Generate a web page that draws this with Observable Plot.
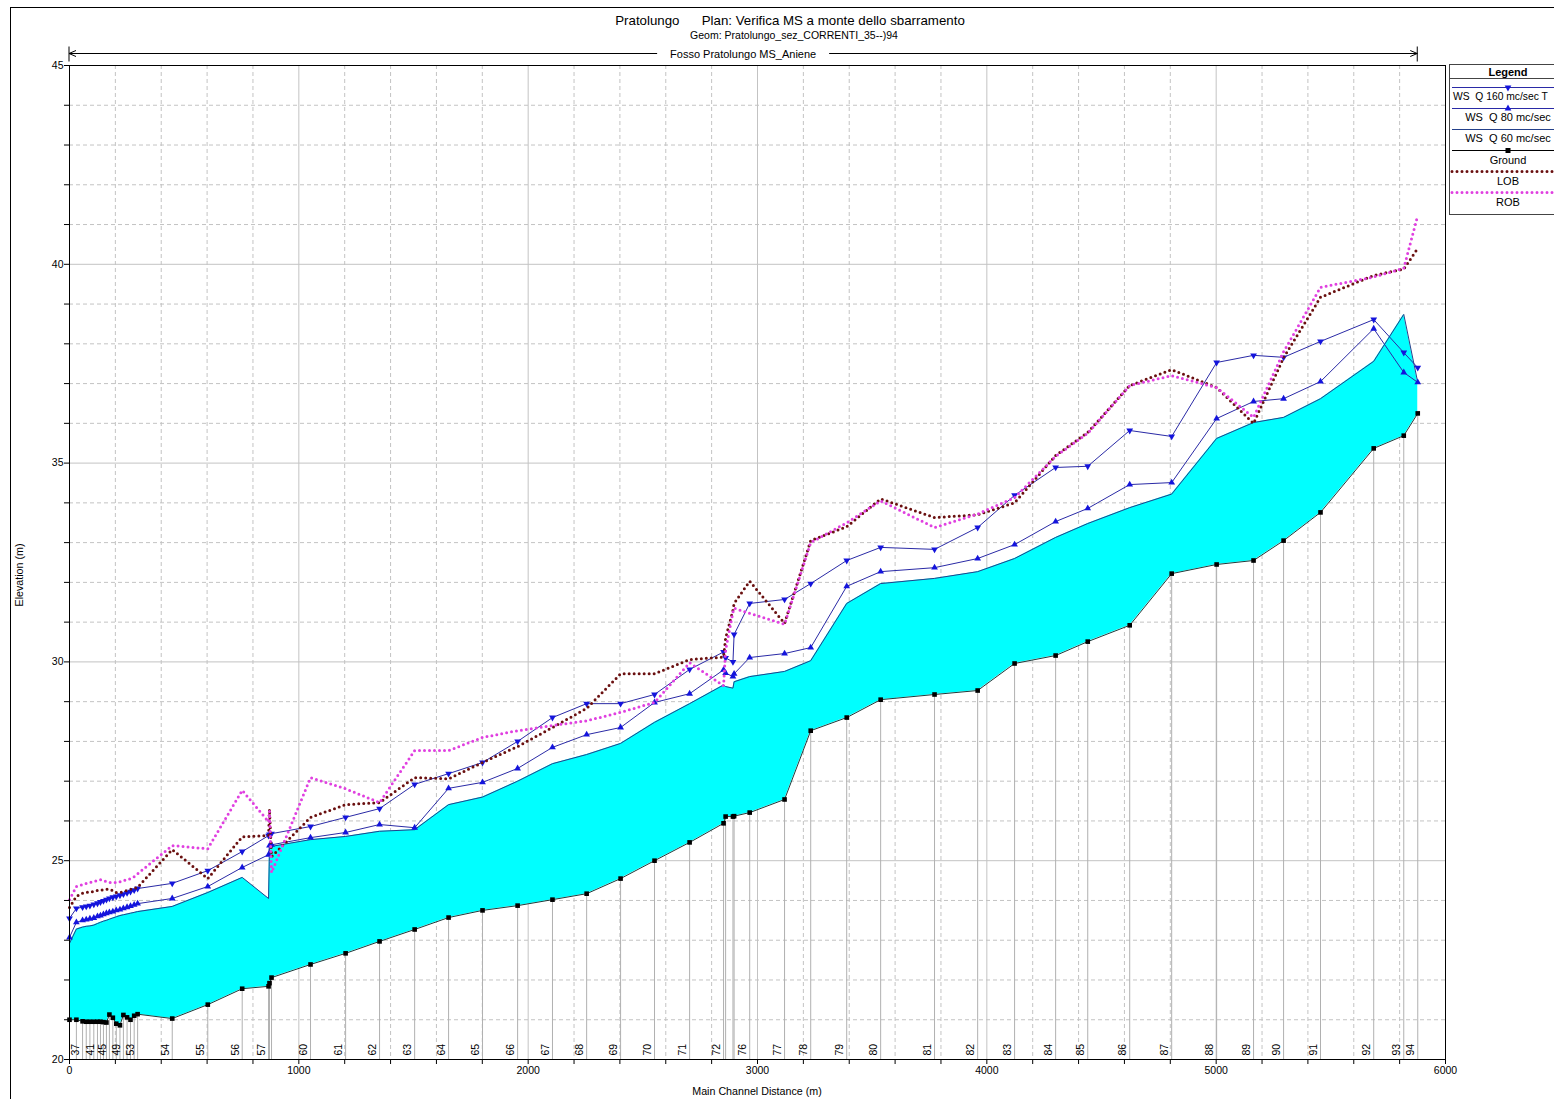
<!DOCTYPE html>
<html><head><meta charset="utf-8">
<script src="https://cdn.jsdelivr.net/npm/d3@7"></script>
<script src="https://cdn.jsdelivr.net/npm/@observablehq/plot@0.6"></script>
<style>
html,body{margin:0;padding:0;background:#fff;overflow:hidden;}
#chart{position:relative;width:1554px;height:1099px;}
</style></head><body><div id="chart"></div>
<script>
// ---- data ----
const stations = [35,36,37,38,39,40,41,42,43,44,45,46,47,48,49,50,51,52,53,
  54,55,56,57,58,59,60,61,62,63,64,65,66,67,68,69,70,71,72,73,74,75,76,77,78,79,80,81,82,83,84,85,86,87,88,89,90,91,92,93,94];
const shownLabels = [37,41,45,49,53,54,55,56,57,60,61,62,63,64,65,66,67,68,69,70,71,72,76,77,78,79,80,81,82,83,84,85,86,87,88,89,90,91,92,93,94];
const dist = [0,30,57,73,89,106,122,135,148,161,174,189,204,220,235,251,266,282,297,
  448,603,753,868,872,881,1051,1204,1352,1505,1653,1801,1954,2106,2255,2403,2551,2704,2852,2861,2893,2898,2966,3118,3232,3389,3537,3772,3960,4121,4300,4440,4623,4806,5002,5163,5294,5455,5687,5818,5879];
const ground = [21.0,21.0,20.96,20.95,20.95,20.95,20.95,20.95,20.94,20.93,21.13,21.05,20.9,20.86,21.12,21.06,21.0,21.1,21.14,
  21.03,21.38,21.78,21.84,21.92,22.06,22.39,22.67,22.97,23.27,23.57,23.75,23.87,24.02,24.17,24.55,25.0,25.46,25.94,26.11,26.11,26.12,26.21,26.54,28.27,28.6,29.05,29.18,29.28,29.96,30.16,30.51,30.92,32.22,32.45,32.55,33.05,33.76,35.37,35.69,36.25];
const wsQ60 = [22.92,23.28,23.33,23.35,23.36,23.38,23.42,23.45,23.48,23.5,23.53,23.56,23.59,23.62,23.64,23.66,23.68,23.7,23.72,
  23.85,24.2,24.58,24.05,25.3,25.36,25.53,25.61,25.74,25.78,26.41,26.6,27.0,27.44,27.67,27.95,28.48,28.95,29.42,29.38,29.34,29.5,29.63,29.76,30.03,31.47,31.97,32.1,32.27,32.6,33.13,33.48,33.88,34.22,35.62,36.02,36.15,36.62,37.56,38.74,37.03];
const wsQ80 = [23.07,23.45,23.5,23.52,23.54,23.56,23.6,23.62,23.65,23.68,23.7,23.72,23.75,23.77,23.8,23.83,23.86,23.89,23.92,
  24.05,24.35,24.83,25.15,25.38,25.4,25.58,25.71,25.91,25.83,26.82,26.97,27.32,27.85,28.17,28.35,28.98,29.2,29.8,29.72,29.63,29.7,30.11,30.21,30.36,31.9,32.27,32.37,32.6,32.95,33.53,33.86,34.46,34.51,36.12,36.55,36.62,37.05,38.38,37.28,37.03];
const wsQ160 = [23.55,23.8,23.83,23.85,23.87,23.9,23.93,23.96,23.99,24.02,24.05,24.08,24.1,24.13,24.16,24.19,24.22,24.26,24.3,
  24.43,24.75,25.23,25.63,25.66,25.68,25.86,26.09,26.31,26.92,27.19,27.47,28.0,28.6,28.95,28.95,29.18,29.81,30.25,30.1,30.0,30.69,31.47,31.57,31.97,32.55,32.88,32.83,33.38,34.19,34.89,34.92,35.82,35.67,37.53,37.71,37.66,38.06,38.61,37.78,37.4];
const lob = [23.82,24.1,24.18,24.2,24.22,24.22,24.25,24.25,24.27,24.28,24.28,24.25,24.2,24.2,24.22,24.25,24.28,24.3,24.33,
  25.28,24.55,25.6,25.63,26.3,25.1,26.09,26.41,26.46,27.09,27.06,27.47,27.87,28.35,28.83,29.7,29.7,30.06,30.12,30.6,31.3,31.47,32.03,30.97,33.05,33.4,34.1,33.63,33.7,34.0,35.19,35.77,36.95,37.35,36.9,36.0,37.65,39.17,39.72,39.88,40.4];
const rob = [24.02,24.35,24.4,24.43,24.45,24.48,24.5,24.52,24.5,24.47,24.45,24.45,24.45,24.47,24.5,24.52,24.55,24.6,24.67,
  25.38,25.3,26.77,25.98,26.25,24.7,27.09,26.81,26.46,27.77,27.77,28.1,28.27,28.4,28.52,28.73,28.98,29.98,29.4,30.3,31.25,31.35,31.22,30.95,33.0,33.5,34.05,33.38,33.72,34.13,35.17,35.75,36.95,37.2,36.9,36.15,37.8,39.42,39.68,39.9,41.23];
const xTicks = d3.range(0, 6001, 200);
const yTicks = d3.range(20, 46, 1);
const titleText = "Pratolungo      Plan: Verifica MS a monte dello sbarramento";
const subtitleText = "Geom: Pratolungo_sez_CORRENTI_35--)94";
const reachText = "Fosso Pratolungo MS_Aniene";
const xLabel = "Main Channel Distance (m)";
const yLabel = "Elevation (m)";
const legendItems = ["WS  Q 160 mc/sec T", "WS  Q 80 mc/sec", "WS  Q 60 mc/sec", "Ground", "LOB", "ROB"];

// ---- build ----
const rows = stations.map((s, i) => ({s, d: dist[i], g: ground[i], w60: wsQ60[i], w80: wsQ80[i], w160: wsQ160[i], lob: lob[i], rob: rob[i]}));
const FONT = "'Liberation Sans', Arial, sans-serif";
const GRID = "#c3c3c3";
const dotted = {strokeWidth: 3, strokeDasharray: "0,5", strokeLinecap: "round"};
const yMin = yTicks[0];

const plot = Plot.plot({
  width: 1554, height: 1099,
  marginLeft: 69, marginRight: 109, marginTop: 65, marginBottom: 40,
  style: {fontFamily: FONT, fontSize: "10px", background: "white", color: "black"},
  x: {domain: [0, 6000], label: null},
  y: {domain: [20, 45], label: null},
  marks: [
    Plot.ruleX(xTicks.filter(v => v % 1000 !== 0), {stroke: GRID, strokeDasharray: "4,3"}),
    Plot.ruleX(xTicks.filter(v => v % 1000 === 0 && v > 0 && v < 6000), {stroke: GRID}),
    Plot.ruleY(yTicks.filter(v => v % 5 !== 0), {stroke: GRID, strokeDasharray: "4,3"}),
    Plot.ruleY(yTicks.filter(v => v % 5 === 0 && v > 20 && v < 45), {stroke: GRID}),
    Plot.ruleX(rows, {x: "d", y1: yMin, y2: "g", stroke: "#b0b0b0"}),
    Plot.areaY(rows, {x: "d", y1: "g", y2: "w60", fill: "#00ffff"}),
    Plot.line(rows, {x: "d", y: "w60", stroke: "#24408a", strokeWidth: 1}),
    Plot.line(rows, {x: "d", y: "g", stroke: "#1c3a3a", strokeWidth: 1}),
    Plot.dot(rows, {x: "d", y: "g", symbol: "square", fill: "black", r: 2.6}),
    Plot.line(rows, {x: "d", y: "w80", stroke: "#2a2aa6", strokeWidth: 1}),
    Plot.dot(rows, {x: "d", y: "w80", symbol: "triangle", fill: "#1414dc", r: 2.5}),
    Plot.line(rows, {x: "d", y: "w160", stroke: "#2a2aa6", strokeWidth: 1}),
    Plot.dot(rows, {x: "d", y: "w160", symbol: "triangle", rotate: 180, fill: "#1414dc", r: 2.5}),
    Plot.line(rows, {x: "d", y: "lob", stroke: "#6a1010", ...dotted}),
    Plot.line(rows, {x: "d", y: "rob", stroke: "#e040e0", ...dotted}),
    Plot.text(rows.filter(r => shownLabels.includes(r.s)), {x: "d", text: r => String(r.s), rotate: -90, frameAnchor: "bottom", textAnchor: "start", dy: -4, dx: -3.5, fontSize: 10.5, fill: "black"}),
    Plot.axisX({ticks: xTicks, tickSize: 5, tickPadding: 2, tickFormat: v => v % 1000 === 0 ? String(v) : "", label: null, fontSize: 10.5}),
    Plot.axisY({ticks: yTicks, tickSize: 5, tickPadding: 1, tickFormat: v => v % 5 === 0 ? String(v) : "", label: null, fontSize: 10.5}),
    Plot.frame({stroke: "black"})
  ]
});

const svg = d3.select(plot);
const xs = plot.scale("x");
const g = svg.append("g").attr("font-family", FONT).attr("fill", "black");

// outer border
g.append("rect").attr("x", 10.5).attr("y", 7.5).attr("width", 1600).attr("height", 1100)
  .attr("fill", "none").attr("stroke", "black");

// titles
g.append("text").attr("x", 790).attr("y", 25).attr("text-anchor", "middle").attr("font-size", 13.3).style("white-space", "pre").text(titleText);
g.append("text").attr("x", 794).attr("y", 39).attr("text-anchor", "middle").attr("font-size", 10.5).text(subtitleText);

// reach line
const xa = xs.apply(dist[0]), xb = xs.apply(dist[dist.length - 1]);
const cx = (xa + xb) / 2, ry = 53.5;
const rl = g.append("g").attr("stroke", "black").attr("stroke-width", 1).attr("fill", "none");
rl.append("line").attr("x1", xa).attr("x2", cx - 86).attr("y1", ry).attr("y2", ry);
rl.append("line").attr("x1", cx + 86).attr("x2", xb).attr("y1", ry).attr("y2", ry);
rl.append("line").attr("x1", xa).attr("x2", xa).attr("y1", ry - 7).attr("y2", ry + 8);
rl.append("line").attr("x1", xb).attr("x2", xb).attr("y1", ry - 7).attr("y2", ry + 8);
rl.append("path").attr("d", `M${xa + 7},${ry - 3}L${xa},${ry}L${xa + 7},${ry + 3}`);
rl.append("path").attr("d", `M${xb - 7},${ry - 3}L${xb},${ry}L${xb - 7},${ry + 3}`);
g.append("text").attr("x", cx).attr("y", ry + 4.5).attr("text-anchor", "middle").attr("font-size", 11).text(reachText);

// axis titles
g.append("text").attr("x", 757).attr("y", 1095).attr("text-anchor", "middle").attr("font-size", 10.7).text(xLabel);
g.append("text").attr("transform", "translate(23,575) rotate(-90)").attr("text-anchor", "middle").attr("font-size", 10.7).text(yLabel);

// legend
const L = g.append("g").attr("font-size", 11);
L.append("rect").attr("x", 1449.5).attr("y", 64.5).attr("width", 200).attr("height", 150).attr("fill", "white").attr("stroke", "#444");
L.append("text").attr("x", 1508).attr("y", 75.5).attr("text-anchor", "middle").attr("font-weight", "bold").text("Legend");
L.append("line").attr("x1", 1450).attr("x2", 1650).attr("y1", 78.5).attr("y2", 78.5).attr("stroke", "#444");
const lineY = [87.5, 108.5, 129.5, 150.5, 171.5, 192.5];
const textY = [99.5, 121, 142, 163.5, 185, 206];
const lineStyle = [
  {stroke: "#2a2aa6", w: 1}, {stroke: "#2a2aa6", w: 1}, {stroke: "#24408a", w: 1},
  {stroke: "black", w: 1}, {stroke: "#6a1010", w: 3, dash: "0,5"}, {stroke: "#e040e0", w: 3, dash: "0,5"}
];
legendItems.forEach((t, i) => {
  const st = lineStyle[i];
  const ln = L.append("line").attr("x1", 1452).attr("x2", 1650).attr("y1", lineY[i]).attr("y2", lineY[i])
    .attr("stroke", st.stroke).attr("stroke-width", st.w);
  if (st.dash) ln.attr("stroke-dasharray", st.dash).attr("stroke-linecap", "round");
  const tx = L.append("text").attr("y", textY[i]).style("white-space", "pre").text(t);
  if (i === 0) tx.attr("x", 1453).attr("text-anchor", "start").attr("font-size", 10.3);
  else tx.attr("x", 1508).attr("text-anchor", "middle");
});
const sym = (type, rot, y, fill) => L.append("path")
  .attr("d", d3.symbol(type, Math.PI * 2.5 * 2.5)())
  .attr("transform", `translate(1508,${y}) rotate(${rot})`).attr("fill", fill);
sym(d3.symbolTriangle, 180, lineY[0], "#1414dc");
sym(d3.symbolTriangle, 0, lineY[1], "#1414dc");
L.append("rect").attr("x", 1505.5).attr("y", lineY[3] - 2.5).attr("width", 5).attr("height", 5).attr("fill", "black");

document.getElementById("chart").appendChild(plot);
</script>
</body></html>
